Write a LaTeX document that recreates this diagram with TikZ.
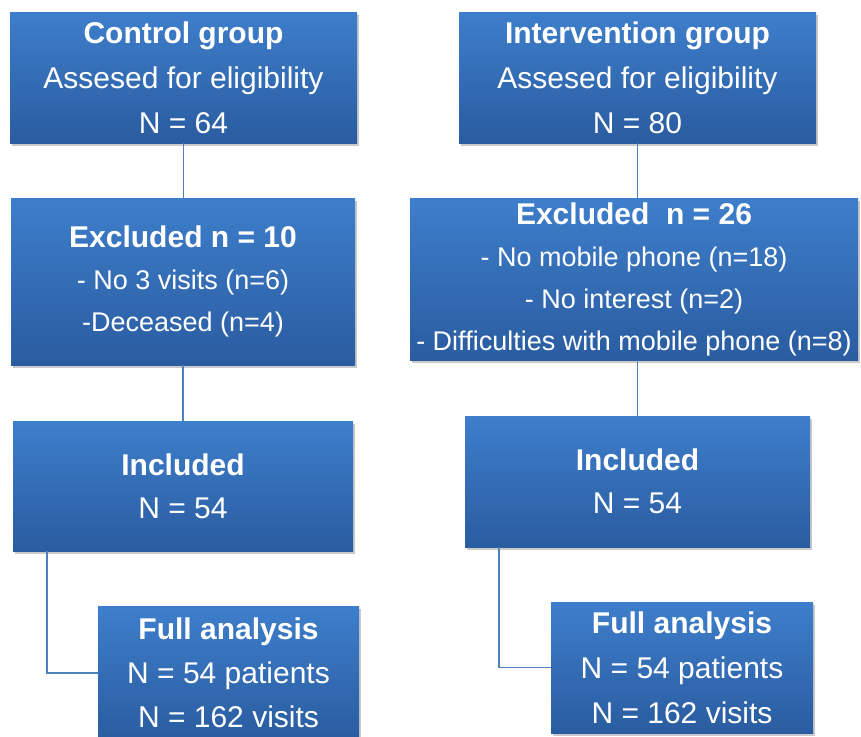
\documentclass[tikz,border=0pt]{standalone}
\usepackage{fontspec}
\setmainfont{Liberation Sans}
\usepackage{tikz}
\usetikzlibrary{positioning, shadows}
\usepackage{xcolor}

\definecolor{boxtop}{RGB}{62,126,203}
\definecolor{boxbot}{RGB}{42,92,160}
\definecolor{linkblue}{RGB}{79,129,189}

\tikzset{
	stagebox/.style={rectangle, inner sep=0pt, align=center, text=white,
		top color=boxtop, bottom color=boxbot,
		drop shadow={shadow xshift=1.5pt, shadow yshift=-2.5pt, opacity=0.3, fill=black!70},
		font=\fontsize{30}{45}\selectfont},
	listbox/.style={stagebox, font=\fontsize{27}{42}\selectfont},
	link/.style={draw=linkblue, line width=1.8pt}
}
\newcommand{\headline}[1]{{\fontsize{30}{42}\selectfont\bfseries #1}}

\begin{document}
\begin{tikzpicture}[x=1pt, y=-1pt]
	\useasboundingbox (0,0) rectangle (861,736);
	% Control group
	\node[stagebox, minimum width=347pt, minimum height=131pt] (ctrl) at (183.5,77.5)
	{\textbf{Control group}\\ Assesed for eligibility\\ N = 64};
	\node[listbox, minimum width=344pt, minimum height=167pt] (exclA) at (183,281.5)
	{\headline{Excluded n = 10}\\ - No 3 visits (n=6)\\ -Deceased (n=4)};
	\node[stagebox, minimum width=340pt, minimum height=130pt, font=\fontsize{30}{43}\selectfont] (inclA) at (183,486)
	{\textbf{Included}\\ N = 54};
	\node[stagebox, minimum width=261pt, minimum height=133pt, font=\fontsize{30}{44}\selectfont] (fullA) at (228.5,673)
	{\textbf{Full analysis}\\ N = 54 patients\\ N = 162 visits};
	% Intervention group
	\node[stagebox, minimum width=357pt, minimum height=131pt] (intv) at (637.5,77.5)
	{\textbf{Intervention group}\\ Assesed for eligibility\\ N = 80};
	\node[listbox, minimum width=448pt, minimum height=162pt] (exclB) at (634,279)
	{\headline{Excluded~~n = 26}\\ - No mobile phone (n=18)\\ - No interest (n=2)\\ - Difficulties with mobile phone (n=8)};
	\node[stagebox, minimum width=345pt, minimum height=131pt, font=\fontsize{30}{43}\selectfont] (inclB) at (637.5,481.5)
	{\textbf{Included}\\ N = 54};
	\node[stagebox, minimum width=262pt, minimum height=131pt, font=\fontsize{30}{45}\selectfont] (fullB) at (682,667.5)
	{\textbf{Full analysis}\\ N = 54 patients\\ N = 162 visits};
	% Connectors
	\draw[link] (ctrl.south) -- (ctrl.south |- exclA.north);
	\draw[link] (exclA.south) -- (exclA.south |- inclA.north);
	\draw[link] ([xshift=34pt]inclA.south west) |- (fullA.west);
	\draw[link] (intv.south) -- (intv.south |- exclB.north);
	\draw[link] (exclB.south -| inclB.north) -- (inclB.north);
	\draw[link] ([xshift=34pt]inclB.south west) |- (fullB.west);
\end{tikzpicture}
\end{document}
